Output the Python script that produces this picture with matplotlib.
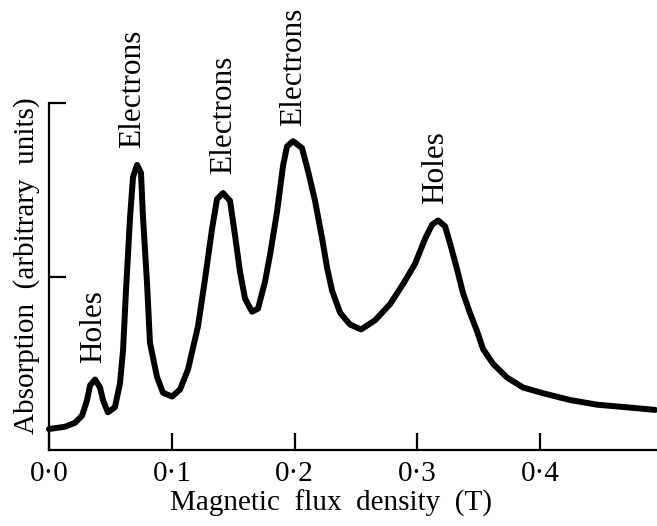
import matplotlib
matplotlib.use("Agg")
import matplotlib.pyplot as plt

# Curve: magnetic flux density (T) vs absorption (arb. units)
flux = [0.0000, 0.0130, 0.0212, 0.0269, 0.0309, 0.0334, 0.0375, 0.0415, 0.0440,
        0.0480, 0.0537, 0.0578, 0.0603, 0.0627, 0.0660, 0.0684, 0.0717, 0.0749,
        0.0765, 0.0798, 0.0822, 0.0879, 0.0928, 0.1002, 0.1067, 0.1132, 0.1213,
        0.1270, 0.1327, 0.1368, 0.1417, 0.1474, 0.1515, 0.1555, 0.1596, 0.1653,
        0.1702, 0.1759, 0.1800, 0.1857, 0.1906, 0.1938, 0.1987, 0.2060, 0.2109,
        0.2166, 0.2223, 0.2264, 0.2305, 0.2370, 0.2451, 0.2541, 0.2655, 0.2777,
        0.2883, 0.2980, 0.3062, 0.3119, 0.3168, 0.3225, 0.3265, 0.3322, 0.3371,
        0.3428, 0.3485, 0.3534, 0.3616, 0.3730, 0.3860, 0.4023, 0.4243, 0.4463,
        0.4707, 0.4935]
absorption = [0.121, 0.134, 0.157, 0.198, 0.285, 0.372, 0.406, 0.361, 0.286,
              0.217, 0.247, 0.385, 0.576, 0.922, 1.342, 1.573, 1.643, 1.597,
              1.344, 0.963, 0.618, 0.422, 0.330, 0.308, 0.349, 0.465, 0.713,
              0.984, 1.273, 1.446, 1.481, 1.436, 1.234, 1.027, 0.872, 0.797,
              0.815, 0.971, 1.127, 1.375, 1.641, 1.750, 1.780, 1.740, 1.608,
              1.436, 1.222, 1.050, 0.918, 0.791, 0.723, 0.695, 0.748, 0.841,
              0.957, 1.073, 1.218, 1.299, 1.323, 1.289, 1.191, 1.042, 0.904,
              0.788, 0.685, 0.582, 0.496, 0.417, 0.360, 0.327, 0.288, 0.261,
              0.246, 0.231]

# Peak annotations
peak_labels = ["Holes", "Electrons", "Electrons", "Electrons", "Holes"]
peak_x = [0.0366, 0.0684, 0.1425, 0.1995, 0.315]
peak_y = [0.504, 1.74, 1.59, 1.866, 1.415]

xticks = [0.0, 0.1, 0.2, 0.3, 0.4]
xtick_labels = ["0·0", "0·1", "0·2", "0·3", "0·4"]
yticks = [1.0, 2.0]

plt.rcParams['font.family'] = ['Liberation Serif', 'DejaVu Serif']

fig = plt.figure(figsize=(6.57, 5.26), dpi=100)
ax = fig.add_axes([49/657, 76/526, 608/657, 347/526])

ax.plot(flux, absorption, color='black', lw=4.3, solid_joinstyle='round',
        solid_capstyle='round', clip_on=False)

for lab, px, py in zip(peak_labels, peak_x, peak_y):
    ax.text(px, py, lab, rotation=90, ha='center', va='bottom', fontsize=22.5,
            color='black')

ax.set_xlim(0, 0.495)
ax.set_ylim(0, 2.0)
ax.set_xticks(xticks)
ax.set_xticklabels(xtick_labels, fontsize=21)
ax.set_yticks(yticks)
ax.set_yticklabels([])

ax.tick_params(axis='x', direction='in', length=12, width=1.6, pad=8)
ax.tick_params(axis='y', direction='in', length=12, width=1.6)

for s in ['top', 'right']:
    ax.spines[s].set_visible(False)
for s in ['left', 'bottom']:
    ax.spines[s].set_linewidth(1.6)

ax.set_xlabel("Magnetic  flux  density  (T)", fontsize=21)
ax.xaxis.set_label_coords(0.464, -0.115)
ax.set_ylabel("Absorption  (arbitrary  units)", fontsize=21)
ax.yaxis.set_label_coords(-0.015, 0.53)

fig.savefig("out.png", dpi=100, facecolor='white')
